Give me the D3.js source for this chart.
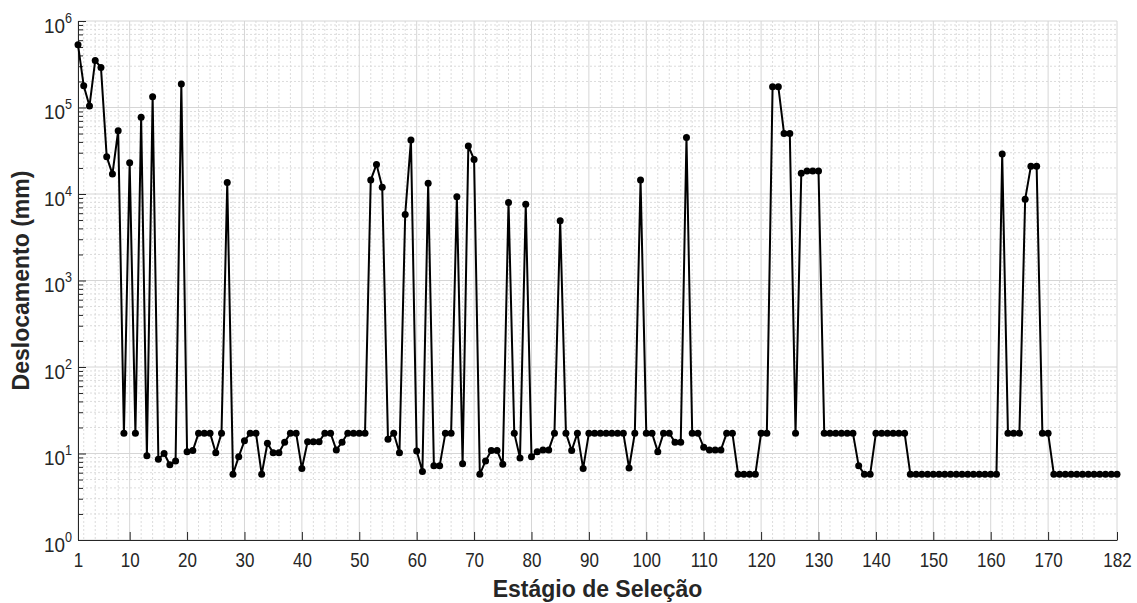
<!doctype html>
<html lang="pt">
<head>
    <meta charset="utf-8">
    <style>
      body { margin: 0; background: #fff; }
      text { font-family: "Liberation Sans", Arial, Helvetica, sans-serif; fill: #262626; }
      .tick line { stroke: #262626; }
      .domain { stroke: #262626; }
    </style>
</head>
<body>
    <script src="https://d3js.org/d3.v7.min.js"></script>
    <div id="chart"></div>
    <script>
        // tick labels
        var xTicks = [1, 10, 20, 30, 40, 50, 60, 70, 80, 90, 100, 110, 120, 130, 140, 150, 160, 170, 182];
        var yTicks = [1, 10, 100, 1000, 10000, 100000, 1000000];
        var yExp = ["0", "1", "2", "3", "4", "5", "6"];

        // deslocamento (mm) para cada estagio 1..182
        var deslocamento = [
            5.3e5, 1.78e5, 1.04e5, 3.5e5, 2.9e5, 2.7e4, 1.7e4, 5.4e4, 17.2, 2.3e4,
            17.2, 7.7e4, 9.4, 1.33e5, 8.6, 10.0, 7.4, 8.2, 1.87e5, 10.5,
            10.8, 17.2, 17.2, 17.2, 10.2, 17.2, 1.36e4, 5.75, 9.2, 14,
            17.2, 17.2, 5.75, 13.1, 10.2, 10.2, 13.5, 17.2, 17.2, 6.7,
            13.7, 13.7, 13.7, 17.2, 17.2, 11, 13.5, 17.2, 17.2, 17.2,
            17.2, 1.45e4, 2.2e4, 1.2e4, 14.6, 17.2, 10.2, 5.8e3, 4.2e4, 10.7,
            6.2, 1.33e4, 7.2, 7.2, 17.2, 17.2, 9.3e3, 7.6, 3.6e4, 2.5e4,
            5.75, 8.2, 10.8, 10.8, 7.5, 8.0e3, 17.2, 8.9, 7.6e3, 9.2,
            10.5, 11, 11, 17.2, 4.9e3, 17.2, 10.8, 17.2, 6.7, 17.2,
            17.2, 17.2, 17.2, 17.2, 17.2, 17.2, 6.8, 17.2, 1.45e4, 17.2,
            17.2, 10.5, 17.2, 17.2, 13.5, 13.5, 4.5e4, 17.2, 17.2, 11.8,
            11, 11, 11, 17.2, 17.2, 5.75, 5.75, 5.75, 5.75, 17.2,
            17.2, 1.74e5, 1.74e5, 5.0e4, 5.0e4, 17.2, 1.74e4, 1.85e4, 1.85e4, 1.85e4,
            17.2, 17.2, 17.2, 17.2, 17.2, 17.2, 7.2, 5.75, 5.75, 17.2,
            17.2, 17.2, 17.2, 17.2, 17.2, 5.75, 5.75, 5.75, 5.75, 5.75,
            5.75, 5.75, 5.75, 5.75, 5.75, 5.75, 5.75, 5.75, 5.75, 5.75,
            5.75, 2.9e4, 17.2, 17.2, 17.2, 8.7e3, 2.1e4, 2.1e4, 17.2, 17.2,
            5.75, 5.75, 5.75, 5.75, 5.75, 5.75, 5.75, 5.75, 5.75, 5.75,
            5.75, 5.75
        ];

        var width = 1137, height = 603;
        var mLeft = 78, mRight = 1117, mTop = 21, mBottom = 540;

        var svg = d3.select("#chart").append("svg")
                    .attr("width", width)
                    .attr("height", height);

        var x = d3.scaleLinear().domain([1, 182]).range([mLeft, mRight]);
        var y = d3.scaleLog().domain([1, 1e6]).range([mBottom, mTop]);

        // minor grid values
        var xMinor = d3.range(2, 182, 2).filter(function(v) { return v % 10 != 0; });
        var yMinor = [];
        yTicks.slice(0, 6).forEach(function(p) {
            for (var m = 2; m <= 9; m++) yMinor.push(m * p);
        });

        var grid = svg.append("g");
        grid.selectAll(".xminor").data(xMinor).enter().append("line")
            .attr("x1", function(d) { return x(d); }).attr("x2", function(d) { return x(d); })
            .attr("y1", mTop).attr("y2", mBottom)
            .attr("stroke", "#dcdcdc").attr("stroke-dasharray", "2,2");
        grid.selectAll(".yminor").data(yMinor).enter().append("line")
            .attr("y1", function(d) { return y(d); }).attr("y2", function(d) { return y(d); })
            .attr("x1", mLeft).attr("x2", mRight)
            .attr("stroke", "#dcdcdc").attr("stroke-dasharray", "2,2");
        grid.selectAll(".xmajor").data(xTicks).enter().append("line")
            .attr("x1", function(d) { return x(d); }).attr("x2", function(d) { return x(d); })
            .attr("y1", mTop).attr("y2", mBottom)
            .attr("stroke", "#d6d6d6");
        grid.selectAll(".ymajor").data(yTicks).enter().append("line")
            .attr("y1", function(d) { return y(d); }).attr("y2", function(d) { return y(d); })
            .attr("x1", mLeft).attr("x2", mRight)
            .attr("stroke", "#d6d6d6");

        // x axis
        var xAxis = svg.append("g")
            .attr("transform", "translate(0," + mBottom + ")")
            .call(d3.axisBottom(x).tickValues(xTicks).tickSizeInner(-8).tickSizeOuter(0).tickPadding(13));
        xAxis.selectAll("text")
            .attr("font-size", "20px")
            .attr("fill", "#262626")
            .attr("transform", "scale(0.85,1)");

        // y minor ticks
        svg.append("g")
            .attr("transform", "translate(" + mLeft + ",0)")
            .call(d3.axisLeft(y).tickValues(yMinor).tickSizeInner(-5).tickSizeOuter(0).tickFormat(""))
            .select(".domain").remove();

        // y axis
        var yAxis = svg.append("g")
            .attr("transform", "translate(" + mLeft + ",0)")
            .call(d3.axisLeft(y).tickValues(yTicks).tickSizeInner(-8).tickSizeOuter(0).tickFormat(""));
        yAxis.selectAll(".tick").each(function(d, i) {
            var t = d3.select(this).append("text")
                .attr("text-anchor", "end")
                .attr("transform", "translate(-6,11) scale(0.9,1)")
                .attr("fill", "#262626");
            t.append("tspan").attr("font-size", "21px").text("10");
            t.append("tspan").attr("font-size", "14px").attr("dy", "-10").text(yExp[i]);
        });

        svg.selectAll(".domain").attr("stroke", "#262626");

        // data line and markers
        var line = d3.line()
            .x(function(d, i) { return x(i + 1); })
            .y(function(d) { return y(d); });

        svg.append("path")
           .datum(deslocamento)
           .attr("d", line)
           .attr("fill", "none")
           .attr("stroke", "#000")
           .attr("stroke-width", 2);

        svg.selectAll(".pt")
           .data(deslocamento)
           .enter()
           .append("circle")
           .attr("cx", function(d, i) { return x(i + 1); })
           .attr("cy", function(d) { return y(d); })
           .attr("r", 3.5)
           .attr("fill", "#000");

        // axis titles
        svg.append("text")
           .attr("x", (mLeft + mRight) / 2)
           .attr("y", 597)
           .attr("text-anchor", "middle")
           .attr("font-size", "23px")
           .attr("font-weight", "bold")
           .text("Estágio de Seleção");

        svg.append("text")
           .attr("transform", "translate(29," + ((mTop + mBottom) / 2) + ") rotate(-90)")
           .attr("text-anchor", "middle")
           .attr("font-size", "23px")
           .attr("font-weight", "bold")
           .text("Deslocamento (mm)");
    </script>
</body>
</html>
